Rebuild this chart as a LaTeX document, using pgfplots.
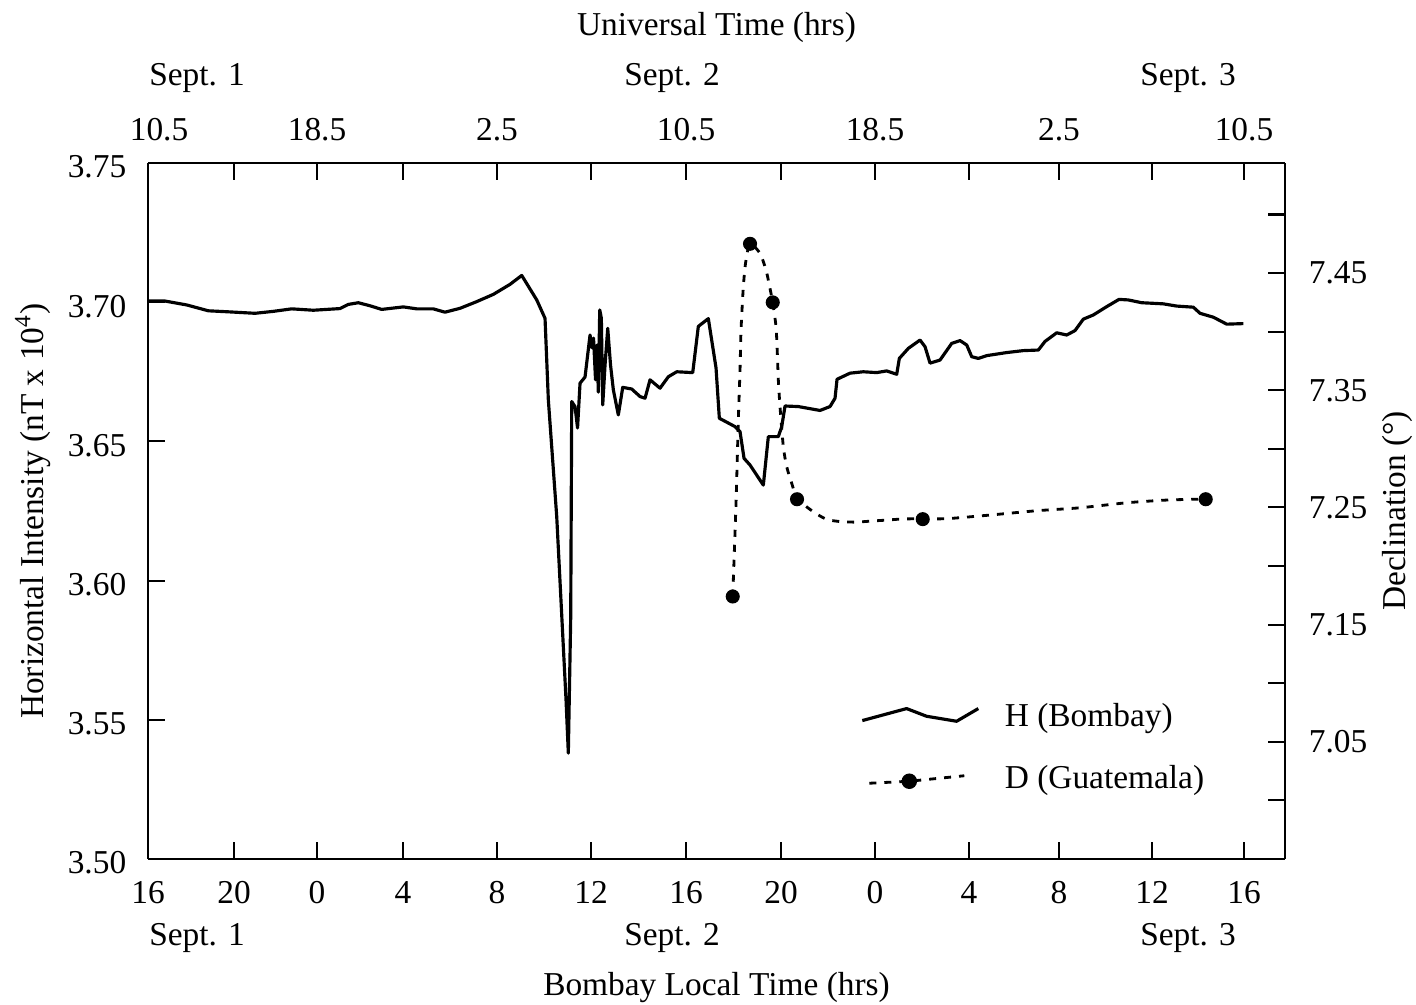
\documentclass[border=0pt]{standalone}
\usepackage{fontspec}
\setmainfont{Liberation Serif}
\usepackage{pgfplots}
\pgfplotsset{compat=1.18}
\pgfplotsset{
  hleg/.style={black, line width=0.9pt, line join=round,
    legend image code/.code={\draw[##1] (0mm,-0.3mm) -- (4.43mm,0.9mm) -- (6.43mm,0.13mm) -- (9.43mm,-0.37mm) -- (11.6mm,0.9mm);}},
  dleg/.style={black, line width=0.8pt, dash pattern=on 0.7mm off 0.8mm, mark=*, mark size=1.8pt, mark options={solid},
    legend image code/.code={\draw[mark repeat=2,mark phase=2,##1] plot coordinates {(0.7mm,-0.35mm) (4.7mm,-0.15mm) (10.2mm,0.4mm)};}},
  common/.style={
    scale only axis, width=113.7mm, height=69.6mm,
    xmin=0, xmax=49.796,
    xtick={0,3.766,7.401,11.168,15.285,19.401,23.562,27.723,31.839,35.956,39.898,43.971,48},
    tick align=inside,
    major tick length=1.7mm,
    axis line style={line width=0.6pt},
    every tick/.style={black, line width=0.6pt},
    /pgf/number format/assume math mode=true,
    clip=false,
  }
}
\begin{document}
\fontsize{9.5}{11.4}\selectfont
\begin{tikzpicture}
\begin{axis}[common,
  axis x line*=bottom, axis y line*=left,
  ymin=3.50, ymax=3.75,
  ytick={3.50,3.55,3.60,3.65,3.70,3.75},
  yticklabels={3.50,3.55,3.60,3.65,3.70,3.75},
  xticklabels={16,20,0,4,8,12,16,20,0,4,8,12,16},
  xticklabel style={yshift=-1.1mm},
  yticklabel style={xshift=-1mm, yshift=-0.4mm},
  xlabel={Bombay Local Time (hrs)},
  xlabel style={at={(axis description cs:0.5,-0.1853)}, anchor=center, inner sep=0pt},
  ylabel={Horizontal Intensity (nT x 10\textsuperscript{4})},
  ylabel style={at={(axis description cs:-0.1011,0.5)}, anchor=center, inner sep=0pt},
]
\path (rel axis cs:-0.1302,-0.2098) rectangle (rel axis cs:1.1152,1.2342);
\addplot[black, line width=0.9pt, line join=round, forget plot] coordinates {
(0,3.7004) (0.745,3.7004) (1.695,3.6990) (2.641,3.6969) (3.591,3.6965) (4.686,3.6960)
(5.488,3.6967) (6.293,3.6976) (7.240,3.6971) (8.409,3.6977) (8.772,3.6992) (9.210,3.6998)
(9.723,3.6987) (10.235,3.6974) (11.181,3.6983) (11.768,3.6976) (12.495,3.6976) (13.007,3.6964)
(13.664,3.6978) (14.396,3.7002) (15.123,3.7028) (15.854,3.7064) (16.367,3.7096) (17.024,3.7008)
(17.387,3.6942) (17.532,3.6649) (17.899,3.6230) (18.307,3.5571) (18.407,3.5380) (18.512,3.5870)
(18.556,3.6643) (18.701,3.6625) (18.811,3.6548) (18.920,3.6709) (19.139,3.6731) (19.358,3.6882)
(19.446,3.6836) (19.511,3.6871) (19.599,3.6721) (19.665,3.6846) (19.721,3.6677) (19.783,3.6972)
(19.853,3.6943) (19.914,3.6631) (20.015,3.6774) (20.133,3.6906) (20.256,3.6774) (20.379,3.6685)
(20.597,3.6595) (20.790,3.6694) (21.184,3.6688) (21.548,3.6661) (21.767,3.6655) (21.986,3.6721)
(22.424,3.6691) (22.787,3.6732) (23.155,3.6750) (23.856,3.6747) (24.101,3.6913) (24.539,3.6941)
(24.876,3.6764) (25.021,3.6583) (25.708,3.6553) (25.927,3.6535) (26.103,3.6439) (26.365,3.6415)
(26.948,3.6343) (27.167,3.6517) (27.605,3.6517) (27.754,3.6553) (27.898,3.6627) (28.481,3.6625)
(29.431,3.6611) (29.869,3.6625) (30.088,3.6655) (30.176,3.6723) (30.745,3.6745) (31.327,3.6750)
(31.914,3.6747) (32.352,3.6753) (32.790,3.6741) (32.904,3.6798) (33.298,3.6834) (33.811,3.6864)
(34.030,3.6840) (34.249,3.6781) (34.686,3.6792) (35.199,3.6852) (35.562,3.6862) (35.856,3.6846)
(36.075,3.6804) (36.364,3.6798) (36.732,3.6808) (37.608,3.6819) (38.335,3.6826) (38.992,3.6828)
(39.285,3.6859) (39.797,3.6890) (40.235,3.6882) (40.599,3.6898) (40.962,3.6939) (41.400,3.6954)
(41.987,3.6984) (42.526,3.7010) (42.933,3.7008) (43.520,3.6998) (44.466,3.6994) (45.053,3.6986)
(45.780,3.6982) (46.073,3.6960) (46.656,3.6946) (47.243,3.6921) (47.970,3.6923)
};
\node at ([yshift=-7.9mm]axis cs:2.146,3.50) {Sept. 1};
\node at ([yshift=-7.9mm]axis cs:22.95,3.50) {Sept. 2};
\node at ([yshift=-7.9mm]axis cs:45.55,3.50) {Sept. 3};
\node at ([yshift=8.5mm]axis cs:2.146,3.75) {Sept. 1};
\node at ([yshift=8.5mm]axis cs:22.95,3.75) {Sept. 2};
\node at ([yshift=8.5mm]axis cs:45.55,3.75) {Sept. 3};
\end{axis}
\begin{axis}[common,
  axis x line*=top, axis y line*=right,
  ymin=6.95, ymax=7.544,
  ytick={7.00,7.05,7.10,7.15,7.20,7.25,7.30,7.35,7.40,7.45,7.50},
  yticklabels={,7.05,,7.15,,7.25,,7.35,,7.45,},
  xticklabels={\hspace*{2.2mm}10.5,,18.5,,2.5,,10.5,,18.5,,2.5,,10.5},
  xticklabel style={yshift=1mm},
  yticklabel style={xshift=1.2mm},
  ylabel={Declination (°)},
  ylabel style={at={(axis description cs:1.0985,0.5)}, anchor=center, inner sep=0pt},
  xlabel={Universal Time (hrs)},
  xlabel style={at={(axis description cs:0.5,1.194)}, anchor=center, inner sep=0pt},
  legend style={at={(axis description cs:0.6262,0.233)}, anchor=north west, draw=none, fill=none,
    inner sep=0pt, nodes={inner sep=0.6mm}, row sep=2.2mm, column sep=1.9mm},
  legend cell align=left,
]
\addlegendimage{hleg}
\addlegendentry{H (Bombay)}
\addlegendimage{dleg}
\addlegendentry{D (Guatemala)}
\addplot[black, line width=0.8pt, dash pattern=on 0.7mm off 0.8mm, smooth, tension=0.4, forget plot] coordinates {
(25.608,7.1738) (25.752,7.2538) (25.853,7.3246) (25.927,7.3672) (25.971,7.4014) (26.072,7.4383)
(26.177,7.4596) (26.365,7.4753) (26.803,7.4668) (27.066,7.4526) (27.210,7.4398) (27.360,7.4247)
(27.504,7.4042) (27.561,7.3815) (27.605,7.3587) (27.679,7.3359) (27.824,7.3018) (27.972,7.2847)
(28.192,7.2706) (28.437,7.2574) (29.137,7.2463) (29.724,7.2398) (30.381,7.2378) (31.038,7.2375)
(31.695,7.2384) (32.352,7.2392) (33.009,7.2401) (33.929,7.2404) (34.980,7.2404) (36.876,7.2435)
(38.922,7.2472) (40.818,7.2497) (42.863,7.2540) (44.615,7.2563) (46.323,7.2572)
};
\addplot[only marks, mark=*, mark size=1.8pt, black, forget plot] coordinates {
(25.608,7.174) (26.365,7.475) (27.360,7.425) (28.424,7.257) (33.929,7.240) (46.323,7.257)
};
\end{axis}
\end{tikzpicture}
\end{document}
